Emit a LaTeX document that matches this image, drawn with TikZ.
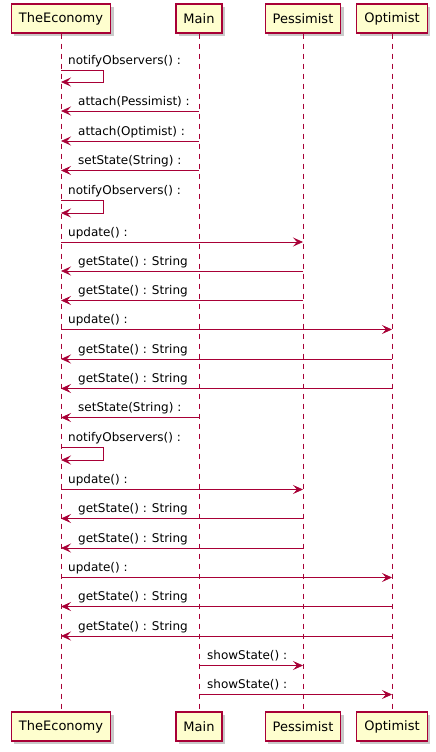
\documentclass[tikz,border=0pt]{standalone}
\usepackage{fontspec}
\setmainfont{DejaVu Sans}
\usetikzlibrary{arrows.meta,shadows}

\definecolor{umlred}{HTML}{A80036}
\definecolor{umlfill}{HTML}{FEFECE}

\begin{document}
\begin{tikzpicture}[x=1pt, y=-1pt,
    actor/.style={draw=umlred, fill=umlfill, line width=1.2pt, minimum height=29pt,
      inner xsep=7.5pt, font=\fontsize{13}{15}\selectfont,
      drop shadow={shadow xshift=3pt, shadow yshift=-3pt, opacity=0.3, fill=black!70}},
    lifeline/.style={umlred, line width=0.8pt, dash pattern=on 5pt off 5pt},
    msg/.style={umlred, line width=0.8pt, -{Stealth[length=10pt, width=9pt, inset=4pt]}},
    lbl/.style={anchor=base west, inner sep=0pt, font=\fontsize{12}{14}\selectfont}]
    \useasboundingbox (0,0) rectangle (436,752);

    % Participants (top)
    \node[actor] (eT) at (61,18.5) {TheEconomy};
    \node[actor] (mT) at (199,18.5) {Main};
    \node[actor] (pT) at (303,18.5) {Pessimist};
    \node[actor] (oT) at (392,18.5) {Optimist};

    % Participants (bottom)
    \node[actor] (eB) at (61,726.5) {TheEconomy};
    \node[actor] (mB) at (199,726.5) {Main};
    \node[actor] (pB) at (303,726.5) {Pessimist};
    \node[actor] (oB) at (392,726.5) {Optimist};

    % Lifelines
    \draw[lifeline] (eT.south) -- (eB.north);
    \draw[lifeline] (mT.south) -- (mB.north);
    \draw[lifeline] (pT.south) -- (pB.north);
    \draw[lifeline] (oT.south) -- (oB.north);

    % Setup
    \draw[msg] (eT |- 0,70) -- ++(42,0) -- ++(0,12) -- (eT |- 0,82);
    \node[lbl] (m1) at (68,64) {notifyObservers() :};
    \draw[msg] (mT |- 0,111) -- (eT |- 0,111);
    \node[lbl] (m2) at (78,105) {attach(Pessimist) :};
    \draw[msg] (mT |- 0,141) -- (eT |- 0,141);
    \node[lbl] (m3) at (78,135) {attach(Optimist) :};

    % First state change
    \draw[msg] (mT |- 0,170.5) -- (eT |- 0,170.5);
    \node[lbl] (m4) at (78,164.5) {setState(String) :};
    \draw[msg] (eT |- 0,200.5) -- ++(42,0) -- ++(0,12.5) -- (eT |- 0,213);
    \node[lbl] (m5) at (68,194.5) {notifyObservers() :};
    \draw[msg] (eT |- 0,242) -- (pT |- 0,242);
    \node[lbl] (m6) at (68,236) {update() :};
    \draw[msg] (pT |- 0,271) -- (eT |- 0,271);
    \node[lbl] (m7) at (78,265) {getState() : String};
    \draw[msg] (pT |- 0,300.5) -- (eT |- 0,300.5);
    \node[lbl] (m8) at (78,294.5) {getState() : String};
    \draw[msg] (eT |- 0,329.5) -- (oT |- 0,329.5);
    \node[lbl] (m9) at (68,323.5) {update() :};
    \draw[msg] (oT |- 0,359) -- (eT |- 0,359);
    \node[lbl] (m10) at (78,353) {getState() : String};
    \draw[msg] (oT |- 0,388.5) -- (eT |- 0,388.5);
    \node[lbl] (m11) at (78,382.5) {getState() : String};

    % Second state change
    \draw[msg] (mT |- 0,417.5) -- (eT |- 0,417.5);
    \node[lbl] (m12) at (78,411.5) {setState(String) :};
    \draw[msg] (eT |- 0,447.5) -- ++(42,0) -- ++(0,12.5) -- (eT |- 0,460);
    \node[lbl] (m13) at (68,441.5) {notifyObservers() :};
    \draw[msg] (eT |- 0,489.5) -- (pT |- 0,489.5);
    \node[lbl] (m14) at (68,483.5) {update() :};
    \draw[msg] (pT |- 0,518.5) -- (eT |- 0,518.5);
    \node[lbl] (m15) at (78,512.5) {getState() : String};
    \draw[msg] (pT |- 0,548) -- (eT |- 0,548);
    \node[lbl] (m16) at (78,542) {getState() : String};
    \draw[msg] (eT |- 0,577.5) -- (oT |- 0,577.5);
    \node[lbl] (m17) at (68,571.5) {update() :};
    \draw[msg] (oT |- 0,606.5) -- (eT |- 0,606.5);
    \node[lbl] (m18) at (78,600.5) {getState() : String};
    \draw[msg] (oT |- 0,636) -- (eT |- 0,636);
    \node[lbl] (m19) at (78,630) {getState() : String};

    % Show results
    \draw[msg] (mT |- 0,665.5) -- (pT |- 0,665.5);
    \node[lbl] (m20) at (207,659.5) {showState() :};
    \draw[msg] (mT |- 0,694.5) -- (oT |- 0,694.5);
    \node[lbl] (m21) at (207,688.5) {showState() :};
\end{tikzpicture}
\end{document}
